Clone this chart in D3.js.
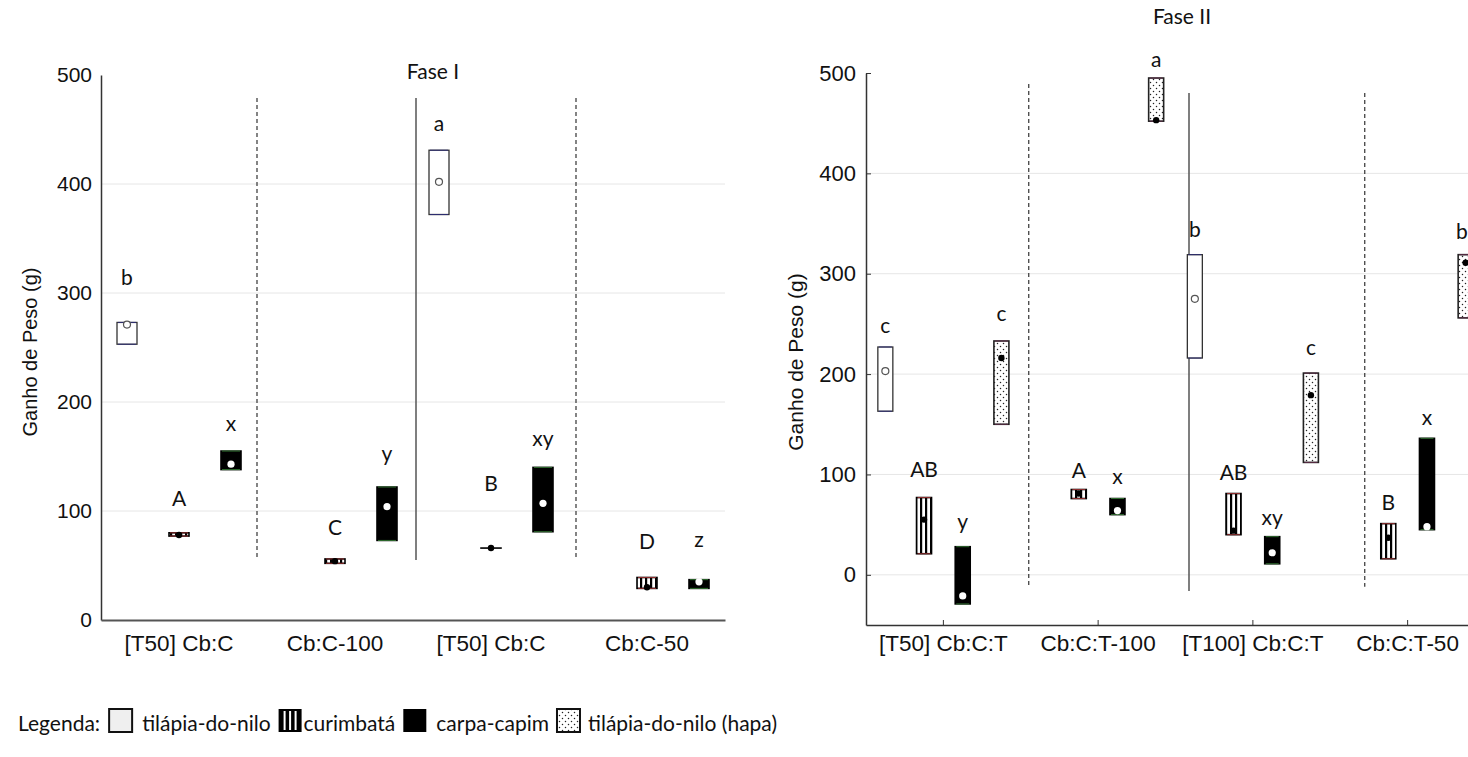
<!DOCTYPE html>
<html><head><meta charset="utf-8">
<script src="https://cdn.jsdelivr.net/npm/d3@7"></script>
<style>body{margin:0;background:#fff;} svg{display:block}</style>
</head><body>
<svg id="chart" width="1468" height="757"></svg>
<script>
// ---------- data ----------
const legendKeys = ["tilapia","curimbata","carpa","hapa"];
const legendLabels = ["tilápia-do-nilo","curimbatá","carpa-capim","tilápia-do-nilo (hapa)"];

const f1Title = "Fase I";
const f1Categories = ["[T50] Cb:C","Cb:C-100","[T50] Cb:C","Cb:C-50"];
const f1Species = ["tilapia","curimbata","carpa"];
const f1Cat = [0,0,0,1,1,2,2,2,3,3];
const f1Sp = ["tilapia","curimbata","carpa","curimbata","carpa","tilapia","curimbata","carpa","curimbata","carpa"];
const f1Low = [253,77,138,52,73,372,66,81,29,29];
const f1High = [273,80,155,56,122,431,66,140,39,37];
const f1Median = [271,78,143,54,104,402,66,107,30,35];
const f1Letters = ["b","A","x","C","y","a","B","xy","D","z"];
const f1LetterAt = [314,111,180,85,153,455,125,166,72,74];
const f1Ticks = [0,100,200,300,400,500];
const f1Grid = [100,200,300,400];

const f2Title = "Fase II";
const f2Categories = ["[T50] Cb:C:T","Cb:C:T-100","[T100] Cb:C:T","Cb:C:T-50"];
const f2Species = ["tilapia","curimbata","carpa","hapa"];
const f2Cat = [0,0,0,0,1,1,1,2,2,2,2,3,3,3];
const f2Sp = ["tilapia","curimbata","carpa","hapa","curimbata","carpa","hapa","tilapia","curimbata","carpa","hapa","curimbata","carpa","hapa"];
const f2Low = [163,21,-29,150,76,60,452,216,40,11,112,16,45,256];
const f2High = [227,77,28,233,85,76,495,319,81,38,201,51,136,319];
const f2Median = [203,55,-21,216,81,64,453,275,44,22,179,37,48,311];
const f2Letters = ["c","AB","y","c","A","x","a","b","AB","xy","c","B","x","b"];
const f2LetterAt = [248,105,53,260,104,98,513,344,102,57,226,72,157,342];
const f2Ticks = [0,100,200,300,400,500];
const f2Grid = [0,100,200,300,400];

const yLabel = "Ganho de Peso (g)";

// ---------- drawing ----------
const W = 1468;
const svg = d3.select("#chart");
const defs = svg.append("defs");
const st = defs.append("pattern").attr("id","stripes").attr("patternUnits","userSpaceOnUse")
  .attr("width",5).attr("height",10);
st.append("rect").attr("width",5).attr("height",10).attr("fill","#fff");
st.append("rect").attr("width",2.2).attr("height",10).attr("fill","#000");
const dp = defs.append("pattern").attr("id","dots").attr("patternUnits","userSpaceOnUse")
  .attr("width",6).attr("height",6);
dp.append("rect").attr("width",6).attr("height",6).attr("fill","#fff");
dp.append("circle").attr("cx",1.5).attr("cy",1.5).attr("r",0.75).attr("fill","#222");
dp.append("circle").attr("cx",4.5).attr("cy",4.5).attr("r",0.75).attr("fill","#222");

const fillOf = {tilapia:"#fff", curimbata:"url(#stripes)", carpa:"#000", hapa:"url(#dots)"};
const strokeOf = {tilapia:"#333", curimbata:"#000", carpa:"#000", hapa:"#222"};
const edgeOf = {tilapia:"#2d2d80", curimbata:"#b03a3a", carpa:"#3d8c3d", hapa:"#6a3050"};

function panel(o){
  const g = svg.append("g");
  const y = d3.scaleLinear().domain(o.yDomain).range([o.yBottom, o.yTop]);
  const x = d3.scaleBand().domain(d3.range(o.categories.length)).range([o.xLeft, o.xRight]);
  const xs = d3.scaleBand().domain(o.species).range([0, x.bandwidth()]);

  g.append("g").selectAll("line").data(o.grid).join("line")
    .attr("x1", o.xLeft).attr("x2", Math.min(o.xRight, W))
    .attr("y1", d=>y(d)).attr("y2", d=>y(d))
    .attr("stroke","#e6e6e6").attr("stroke-width",1);

  // separators
  o.seps.forEach(s=>{
    g.append("line")
      .attr("x1", x(s.after)+s.off).attr("x2", x(s.after)+s.off)
      .attr("y1", y(s.top)).attr("y2", y(s.bottom))
      .attr("stroke", s.dash ? "#333" : "#555")
      .attr("stroke-width", s.dash ? 1.2 : 1.5)
      .attr("stroke-dasharray", s.dash ? "4,3" : null);
  });

  // axes
  const ya = d3.axisLeft(y).tickValues(o.ticks).tickSizeInner(o.yTick).tickSizeOuter(0).tickPadding(o.yPad);
  const yg = g.append("g").attr("transform",`translate(${o.xLeft},0)`).call(ya);
  yg.select(".domain").attr("stroke","#333").attr("stroke-width",1.5);
  yg.selectAll(".tick line").attr("stroke","#333");
  yg.selectAll("text").attr("font-family","Liberation Sans, Arial, sans-serif")
    .attr("font-size",o.tickFont).attr("fill","#111");

  const xa = d3.axisBottom(x).tickFormat(i=>o.categories[i]).tickSizeInner(o.xTick).tickSizeOuter(0).tickPadding(o.xPad);
  const xg = g.append("g").attr("transform",`translate(0,${o.yBottom})`).call(xa);
  xg.select(".domain").attr("stroke",o.xAxisColor).attr("stroke-width",o.xAxisWidth);
  xg.selectAll(".tick line").attr("stroke","#333");
  xg.selectAll("text").attr("font-family","Liberation Sans, Arial, sans-serif")
    .attr("font-size",o.catFont).attr("fill","#111");

  // y label
  g.append("text").attr("transform",`translate(${o.yLabelX},${o.yLabelY}) rotate(-90)`)
    .attr("text-anchor","middle").attr("font-family","Liberation Sans, Arial, sans-serif")
    .attr("font-size",o.yLabelFont).attr("fill","#111").text(yLabel);

  // title
  g.append("text").attr("x",o.titleX).attr("y",o.titleY).attr("text-anchor","middle")
    .attr("font-family","Lato, 'Open Sans', sans-serif").attr("font-size",21).attr("fill","#111")
    .text(o.title);

  const idx = d3.range(o.low.length);
  const cx = i => x(o.cat[i]) + xs(o.sp[i]) + xs.bandwidth()/2;
  const bw = o.boxW;

  const bg = g.append("g");
  bg.selectAll("rect.box").data(idx).join("rect").attr("class","box")
    .attr("x", i=>cx(i)-bw/2).attr("width", bw)
    .attr("y", i=>y(o.high[i]))
    .attr("height", i=>Math.max(0.01, y(o.low[i])-y(o.high[i])))
    .attr("fill", i=>fillOf[o.sp[i]])
    .attr("stroke", i=>strokeOf[o.sp[i]])
    .attr("stroke-width", i=>o.sp[i]==="tilapia"?1.3:1.6);
  // coloured caps
  ["high","low"].forEach(k=>{
    bg.selectAll("line.cap"+k).data(idx.filter(i=>o.high[i]!==o.low[i])).join("line").attr("class","cap"+k)
      .attr("x1", i=>cx(i)-bw/2+1).attr("x2", i=>cx(i)+bw/2-1)
      .attr("y1", i=>y(o[k][i])).attr("y2", i=>y(o[k][i]))
      .attr("stroke", i=>edgeOf[o.sp[i]]).attr("stroke-width",1).attr("opacity",0.8);
  });
  // medians
  bg.selectAll("circle.med").data(idx).join("circle").attr("class","med")
    .attr("cx", cx).attr("cy", i=>y(o.median[i]))
    .attr("r", i=>o.sp[i]==="tilapia"?3.5:(o.sp[i]==="carpa"?3.6:3.2))
    .attr("fill", i=>o.sp[i]==="tilapia"||o.sp[i]==="carpa" ? "#fff" : "#000")
    .attr("stroke", i=>o.sp[i]==="tilapia" ? "#555" : "none")
    .attr("stroke-width",1.2);
  // letters
  bg.selectAll("text.let").data(idx).join("text").attr("class","let")
    .attr("x", i=>Math.min(cx(i), W-6)).attr("y", i=>y(o.letterAt[i])).attr("dy","0.35em")
    .attr("text-anchor","middle").attr("font-family","Lato, 'Open Sans', sans-serif")
    .attr("font-size",o.letterFont).attr("fill","#111")
    .text(i=>o.letters[i]);
}

panel({
  title:f1Title, titleX:433, titleY:79,
  categories:f1Categories, species:f1Species,
  cat:f1Cat, sp:f1Sp, low:f1Low, high:f1High, median:f1Median, letters:f1Letters, letterAt:f1LetterAt,
  ticks:f1Ticks, grid:f1Grid, yDomain:[0,500], yBottom:620, yTop:75, xLeft:101, xRight:725,
  yTick:0, yPad:9, xTick:0, xPad:15, tickFont:21, catFont:22.5, letterFont:21,
  xAxisColor:"#555", xAxisWidth:2, boxW:20,
  yLabelX:37, yLabelY:352, yLabelFont:20,
  seps:[{after:1,off:0,top:479,bottom:55,dash:true},{after:2,off:3,top:479,bottom:55,dash:false},{after:3,off:7,top:479,bottom:55,dash:true}]
});

panel({
  title:f2Title, titleX:1182, titleY:24,
  categories:f2Categories, species:f2Species,
  cat:f2Cat, sp:f2Sp, low:f2Low, high:f2High, median:f2Median, letters:f2Letters, letterAt:f2LetterAt,
  ticks:f2Ticks, grid:f2Grid, yDomain:[-50,500], yBottom:625, yTop:73, xLeft:866, xRight:1485,
  yTick:-5, yPad:10, xTick:-5, xPad:10, tickFont:22, catFont:22.5, letterFont:21,
  xAxisColor:"#333", xAxisWidth:1.5, boxW:15,
  yLabelX:803, yLabelY:362, yLabelFont:21,
  seps:[{after:1,off:8,top:489,bottom:-12,dash:true},{after:2,off:13.5,top:480,bottom:-16,dash:false},{after:3,off:34.5,top:480,bottom:-12,dash:true}]
});

// ---------- legend (laid out sequentially) ----------
const lg = svg.append("g").attr("font-family","Lato, 'Open Sans', sans-serif").attr("font-size",21).attr("fill","#111");
const base = 731, s = 23;
let cur = 18;
const lt = lg.append("text").attr("x",cur).attr("y",base).text("Legenda:");
cur += lt.node().getComputedTextLength() + 9;
const gapAfterIcon = [10, 2, 10, 8];
legendKeys.forEach((k,i)=>{
  const ix = cur, iy = base - s + 1;
  if(k==="tilapia"){
    lg.append("rect").attr("x",ix).attr("y",iy).attr("width",s).attr("height",s)
      .attr("fill","#efefef").attr("stroke","#111").attr("stroke-width",2);
  } else if(k==="curimbata"){
    lg.append("rect").attr("x",ix).attr("y",iy).attr("width",s).attr("height",s).attr("fill","#000");
    [6,11.5,17].forEach(o=>lg.append("rect").attr("x",ix+o-1).attr("y",iy+2).attr("width",2).attr("height",s-4).attr("fill","#fff"));
  } else if(k==="carpa"){
    lg.append("rect").attr("x",ix).attr("y",iy).attr("width",s).attr("height",s).attr("fill","#000");
  } else {
    lg.append("rect").attr("x",ix).attr("y",iy).attr("width",s).attr("height",s)
      .attr("fill","url(#dots)").attr("stroke","#111").attr("stroke-width",2);
  }
  cur += s + gapAfterIcon[i];
  const t = lg.append("text").attr("x",cur).attr("y",base).text(legendLabels[i]);
  cur += t.node().getComputedTextLength() + 8;
});
</script>
</body></html>
